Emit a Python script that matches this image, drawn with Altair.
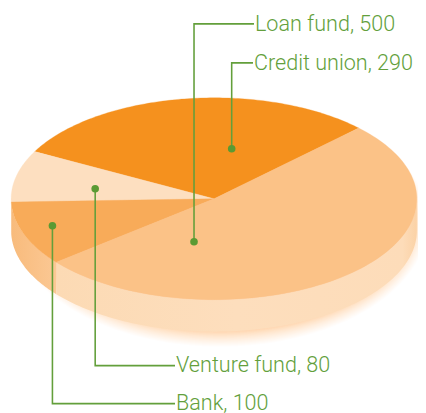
import math
import altair as alt
import pandas as pd

# ---- chart values ----
categories = ["Credit union", "Venture fund", "Bank", "Loan fund"]
values = [290, 80, 100, 500]
slice_colors = ["#f5911e", "#fddfc0", "#f8ab59", "#fbc287"]
wall_stops = [
    [("#fddcb9", 0), ("#fddcb9", 1)],
    [("#f8bb7c", 0), ("#f8bb7c", 1)],
    [("#f8bb7c", 0), ("#fbc894", 1)],
    [("#fcdab4", 0), ("#fddebd", 0.5), ("#fddcb9", 0.96), ("#fbd2a6", 1)],
]
# where each leader's dot sits inside its slice: fraction of the sweep, fraction of the radius
dot_sweep = [0.33, 0.616, 0.45, 0.205]
dot_radius = [0.503, 0.594, 0.84, 0.437]
# label anchor, in reference pixels
label_x = [254, 176, 176, 255]
label_y = [62, 365, 403, 23]

# ---- layout ----
W, H = 418, 411
K = 426 / (W + 16)
OX, OY = 8 * K, 8 * K + 3.2
CX, CY, RX, RY = 214, 198, 203, 101
DEPTH = 32
START = 44.5
GREEN = "#639f3b"
TEXT_GREEN = "#639f3c"

xs = alt.Scale(domain=[OX, OX + W * K], range=[0, W], nice=False, zero=False)
ys = alt.Scale(domain=[OY, OY + H * K], range=[0, H], nice=False, zero=False)
X = lambda f="x": alt.X(f"{f}:Q", scale=xs, axis=None)
Y = lambda f="y": alt.Y(f"{f}:Q", scale=ys, axis=None)


def pt(a, r=1.0):
    t = math.radians(a)
    return CX + RX * r * math.cos(t), CY - RY * r * math.sin(t)


# angles from values
total = sum(values)
bounds = [START]
for v in values:
    bounds.append(bounds[-1] + v / total * 360)

# glow
glow_rows = []
N = 26
for k in range(N):
    g = 17.0 * (1 - (1 - k / N) ** 1.6)
    for i in range(181):
        t = math.radians(i)
        x = 220 + (208 - g) * math.cos(t)
        hh = (125 - g) * math.sin(t)
        glow_rows.append({"layer": k, "x": x, "y": 221 - hh, "y2": 221 + hh})
glow = (
    alt.Chart(pd.DataFrame(glow_rows))
    .mark_area(color="#f7941d", opacity=0.017)
    .encode(x=X(), y=Y(), y2="y2:Q", detail="layer:N")
)

# wall
wall_layers = []
for i, c in enumerate(categories):
    a0, a1 = bounds[i], bounds[i + 1]
    lo, hi = max(a0, 180), min(a1, 360)
    if hi <= lo:
        continue
    rows = []
    n = 120
    for j in range(n + 1):
        x, y = pt(lo + (hi - lo) * j / n)
        rows.append({"x": x, "y": y, "y2": y + DEPTH})
    grad = alt.Gradient(
        gradient="linear", x1=0, x2=1, y1=0, y2=0,
        stops=[alt.GradientStop(color=col, offset=off) for col, off in wall_stops[i]],
    )
    wall_layers.append(
        alt.Chart(pd.DataFrame(rows))
        .mark_area(color=grad)
        .encode(x=X(), y=Y(), y2="y2:Q")
    )

# top slices
slice_layers = []
for i, c in enumerate(categories):
    a0, a1 = bounds[i], bounds[i + 1]
    rows = [{"x": CX, "y": CY, "o": 0}]
    n = 120
    for j in range(n + 1):
        x, y = pt(a0 + (a1 - a0) * j / n)
        rows.append({"x": x, "y": y, "o": j + 1})
    rows.append({"x": CX, "y": CY, "o": n + 2})
    slice_layers.append(
        alt.Chart(pd.DataFrame(rows))
        .mark_line(fill=slice_colors[i], stroke=slice_colors[i], strokeWidth=0.3, interpolate="linear")
        .encode(x=X(), y=Y(), order="o:Q")
    )

# leaders, dots, labels
lead_rows, dot_rows, text_rows = [], [], []
for i, c in enumerate(categories):
    a = bounds[i] + (bounds[i + 1] - bounds[i]) * dot_sweep[i]
    dx, dy = pt(a, dot_radius[i])
    lead_rows += [
        {"s": c, "o": 0, "x": dx, "y": dy},
        {"s": c, "o": 1, "x": dx, "y": label_y[i]},
        {"s": c, "o": 2, "x": label_x[i] - 1, "y": label_y[i]},
    ]
    dot_rows.append({"x": dx, "y": dy})
    text_rows.append({"x": label_x[i], "y": label_y[i], "t": f"{c}, {values[i]}"})

leaders = (
    alt.Chart(pd.DataFrame(lead_rows))
    .mark_line(color=GREEN, strokeWidth=1.6)
    .encode(x=X(), y=Y(), order="o:Q", detail="s:N")
)
dots = (
    alt.Chart(pd.DataFrame(dot_rows))
    .mark_circle(color="#5a9a33", opacity=1, size=60)
    .encode(x=X(), y=Y())
)
labels = (
    alt.Chart(pd.DataFrame(text_rows))
    .mark_text(align="left", baseline="middle", font="Roboto", fontWeight=300, fontSize=22, color=TEXT_GREEN)
    .encode(x=X(), y=Y(), text="t:N")
)

chart = (
    alt.layer(glow, *wall_layers, *slice_layers, leaders, dots, labels)
    .properties(width=W, height=H, padding=0, autosize=alt.AutoSizeParams(type="none"))
    .configure_view(stroke=None)
)
chart.save("out.html", embed_options={"renderer": "svg", "actions": False})
